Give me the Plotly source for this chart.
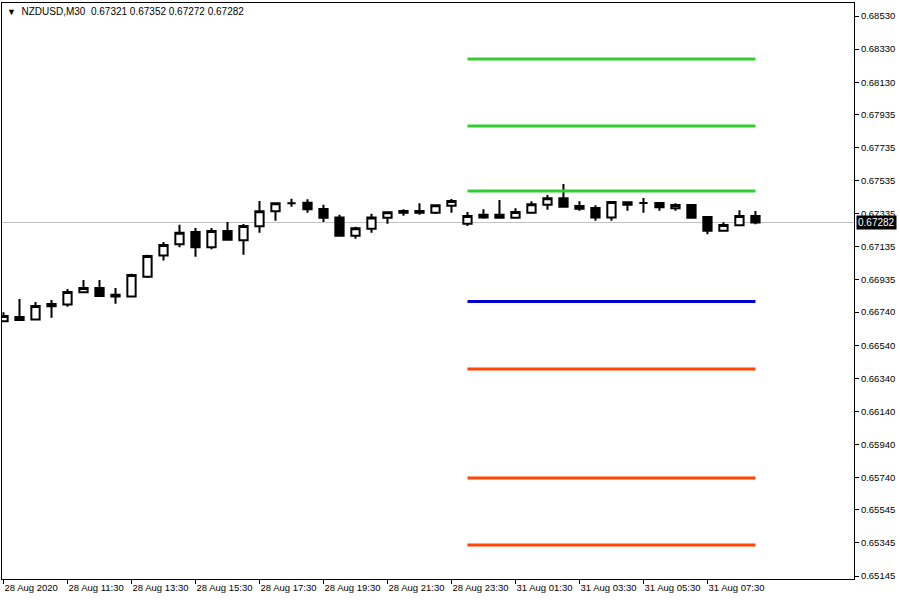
import plotly.graph_objects as go

# ---------------- data ----------------
symbol = "NZDUSD,M30"

opens = [0.66685, 0.66711, 0.66695, 0.66776, 0.66787, 0.66860, 0.66886, 0.66845, 0.66834, 0.66954,
         0.67082, 0.67150, 0.67224, 0.67132, 0.67231, 0.67175, 0.67259, 0.67350, 0.67398, 0.67402,
         0.67364, 0.67313, 0.67202, 0.67244, 0.67311, 0.67351, 0.67351, 0.67341, 0.67383, 0.67275,
         0.67313, 0.67329, 0.67311, 0.67341, 0.67390, 0.67428, 0.67382, 0.67370, 0.67313, 0.67404,
         0.67400, 0.67400, 0.67368, 0.67388, 0.67315, 0.67232, 0.67265, 0.67321]
highs = [0.66739, 0.66819, 0.66801, 0.66813, 0.66880, 0.66934, 0.66934, 0.66886, 0.66972, 0.67087,
         0.67164, 0.67269, 0.67249, 0.67249, 0.67285, 0.67273, 0.67412, 0.67398, 0.67426, 0.67422,
         0.67390, 0.67329, 0.67257, 0.67335, 0.67344, 0.67362, 0.67398, 0.67386, 0.67424, 0.67345,
         0.67362, 0.67418, 0.67368, 0.67410, 0.67448, 0.67515, 0.67410, 0.67386, 0.67410, 0.67406,
         0.67430, 0.67404, 0.67398, 0.67390, 0.67321, 0.67283, 0.67356, 0.67352]
lows = [0.66682, 0.66688, 0.66693, 0.66706, 0.66773, 0.66857, 0.66833, 0.66791, 0.66832, 0.66946,
        0.67052, 0.67132, 0.67075, 0.67120, 0.67172, 0.67087, 0.67220, 0.67293, 0.67377, 0.67341,
        0.67285, 0.67200, 0.67184, 0.67220, 0.67275, 0.67323, 0.67329, 0.67333, 0.67341, 0.67261,
        0.67305, 0.67305, 0.67309, 0.67335, 0.67359, 0.67375, 0.67353, 0.67293, 0.67293, 0.67353,
        0.67341, 0.67353, 0.67353, 0.67305, 0.67211, 0.67226, 0.67262, 0.67272]
closes = [0.66717, 0.66693, 0.66777, 0.66790, 0.66862, 0.66886, 0.66838, 0.66834, 0.66965, 0.67079,
          0.67146, 0.67220, 0.67132, 0.67231, 0.67178, 0.67261, 0.67350, 0.67398, 0.67398, 0.67362,
          0.67311, 0.67202, 0.67247, 0.67313, 0.67344, 0.67341, 0.67341, 0.67386, 0.67412, 0.67321,
          0.67329, 0.67311, 0.67345, 0.67392, 0.67428, 0.67377, 0.67365, 0.67313, 0.67406, 0.67390,
          0.67400, 0.67374, 0.67388, 0.67311, 0.67232, 0.67267, 0.67321, 0.67282]

bar_index = list(range(len(opens)))

x_tick_bars = [0, 4, 8, 12, 16, 20, 24, 28, 32, 36, 40, 44]
x_tick_labels = ["28 Aug 2020", "28 Aug 11:30", "28 Aug 13:30", "28 Aug 15:30", "28 Aug 17:30",
                 "28 Aug 19:30", "28 Aug 21:30", "28 Aug 23:30", "31 Aug 01:30", "31 Aug 03:30",
                 "31 Aug 05:30", "31 Aug 07:30"]

y_tick_values = [0.68530, 0.68330, 0.68130, 0.67935, 0.67735, 0.67535, 0.67335, 0.67135, 0.66935,
                 0.66740, 0.66540, 0.66340, 0.66140, 0.65940, 0.65740, 0.65545, 0.65345, 0.65145]

level_prices = [0.68270, 0.67865, 0.67472, 0.66804, 0.66396, 0.65737, 0.65332]
level_start_bar = 29
level_end_bar = 47

# ---------------- styles ----------------
level_colors = ["#32CD32", "#32CD32", "#32CD32", "#0000CD", "#FF4500", "#FF4500", "#FF4500"]
FONT = "Liberation Sans"

fig = go.Figure()

for price, col in zip(level_prices, level_colors):
    fig.add_trace(go.Scatter(
        x=[level_start_bar, level_end_bar], y=[price, price], mode="lines",
        line=dict(color=col, width=3), hoverinfo="skip", showlegend=False))

fig.add_trace(go.Candlestick(
    x=bar_index, open=opens, high=highs, low=lows, close=closes,
    increasing=dict(line=dict(color="black", width=2), fillcolor="white"),
    decreasing=dict(line=dict(color="black", width=2), fillcolor="black"),
    whiskerwidth=0, showlegend=False))

last_o, last_h, last_l, last_c = opens[-1], highs[-1], lows[-1], closes[-1]

# current price line
fig.add_shape(type="line", xref="paper", x0=0, x1=1, yref="y", y0=last_c, y1=last_c,
              line=dict(color="#C0C0C0", width=1), layer="below")

title_text = ("<span style='font-size:9px'>\u25BC</span>\u00a0\u00a0" + symbol + "\u00a0\u00a0"
              + f"{last_o:.5f} {last_h:.5f} {last_l:.5f} {last_c:.5f}")
fig.add_annotation(xref="paper", yref="paper", x=0, y=1, xanchor="left", yanchor="top",
                   xshift=3, yshift=-1, text=title_text, showarrow=False,
                   font=dict(family=FONT, size=10, color="black"))

fig.add_annotation(xref="paper", yref="y", x=1, y=last_c, xanchor="left", yanchor="middle",
                   xshift=2, text=f"{last_c:.5f}", showarrow=False, bgcolor="black",
                   borderpad=1, font=dict(family=FONT, size=10, color="white"))

fig.update_layout(
    width=900, height=600,
    margin=dict(l=2, r=46, t=3, b=21, autoexpand=False),
    paper_bgcolor="white", plot_bgcolor="white",
    boxgap=0.26,
    font=dict(family=FONT, size=9.5, color="black"),
    xaxis=dict(range=[-0.094, 53.16], showgrid=False, zeroline=False, rangeslider=dict(visible=False),
               tickmode="array", tickvals=x_tick_bars, ticktext=x_tick_labels,
               ticks="outside", ticklen=4, tickcolor="black", tickwidth=1, tickangle=0,
               ticklabelposition="outside right", automargin=False,
               showline=True, linecolor="black", linewidth=1, mirror=True),
    yaxis=dict(range=[0.65127, 0.68609], side="right", showgrid=False, zeroline=False,
               tickmode="array", tickvals=y_tick_values,
               ticktext=[f"{v:.5f}" for v in y_tick_values], automargin=False,
               ticks="outside", ticklen=4, tickcolor="black", tickwidth=1,
               showline=True, linecolor="black", linewidth=1, mirror=True),
)

fig.write_html("out.html", config={"displayModeBar": False},
               post_script="document.body.style.margin='0';document.body.style.padding='0';"
                           "document.body.style.overflow='hidden';")
